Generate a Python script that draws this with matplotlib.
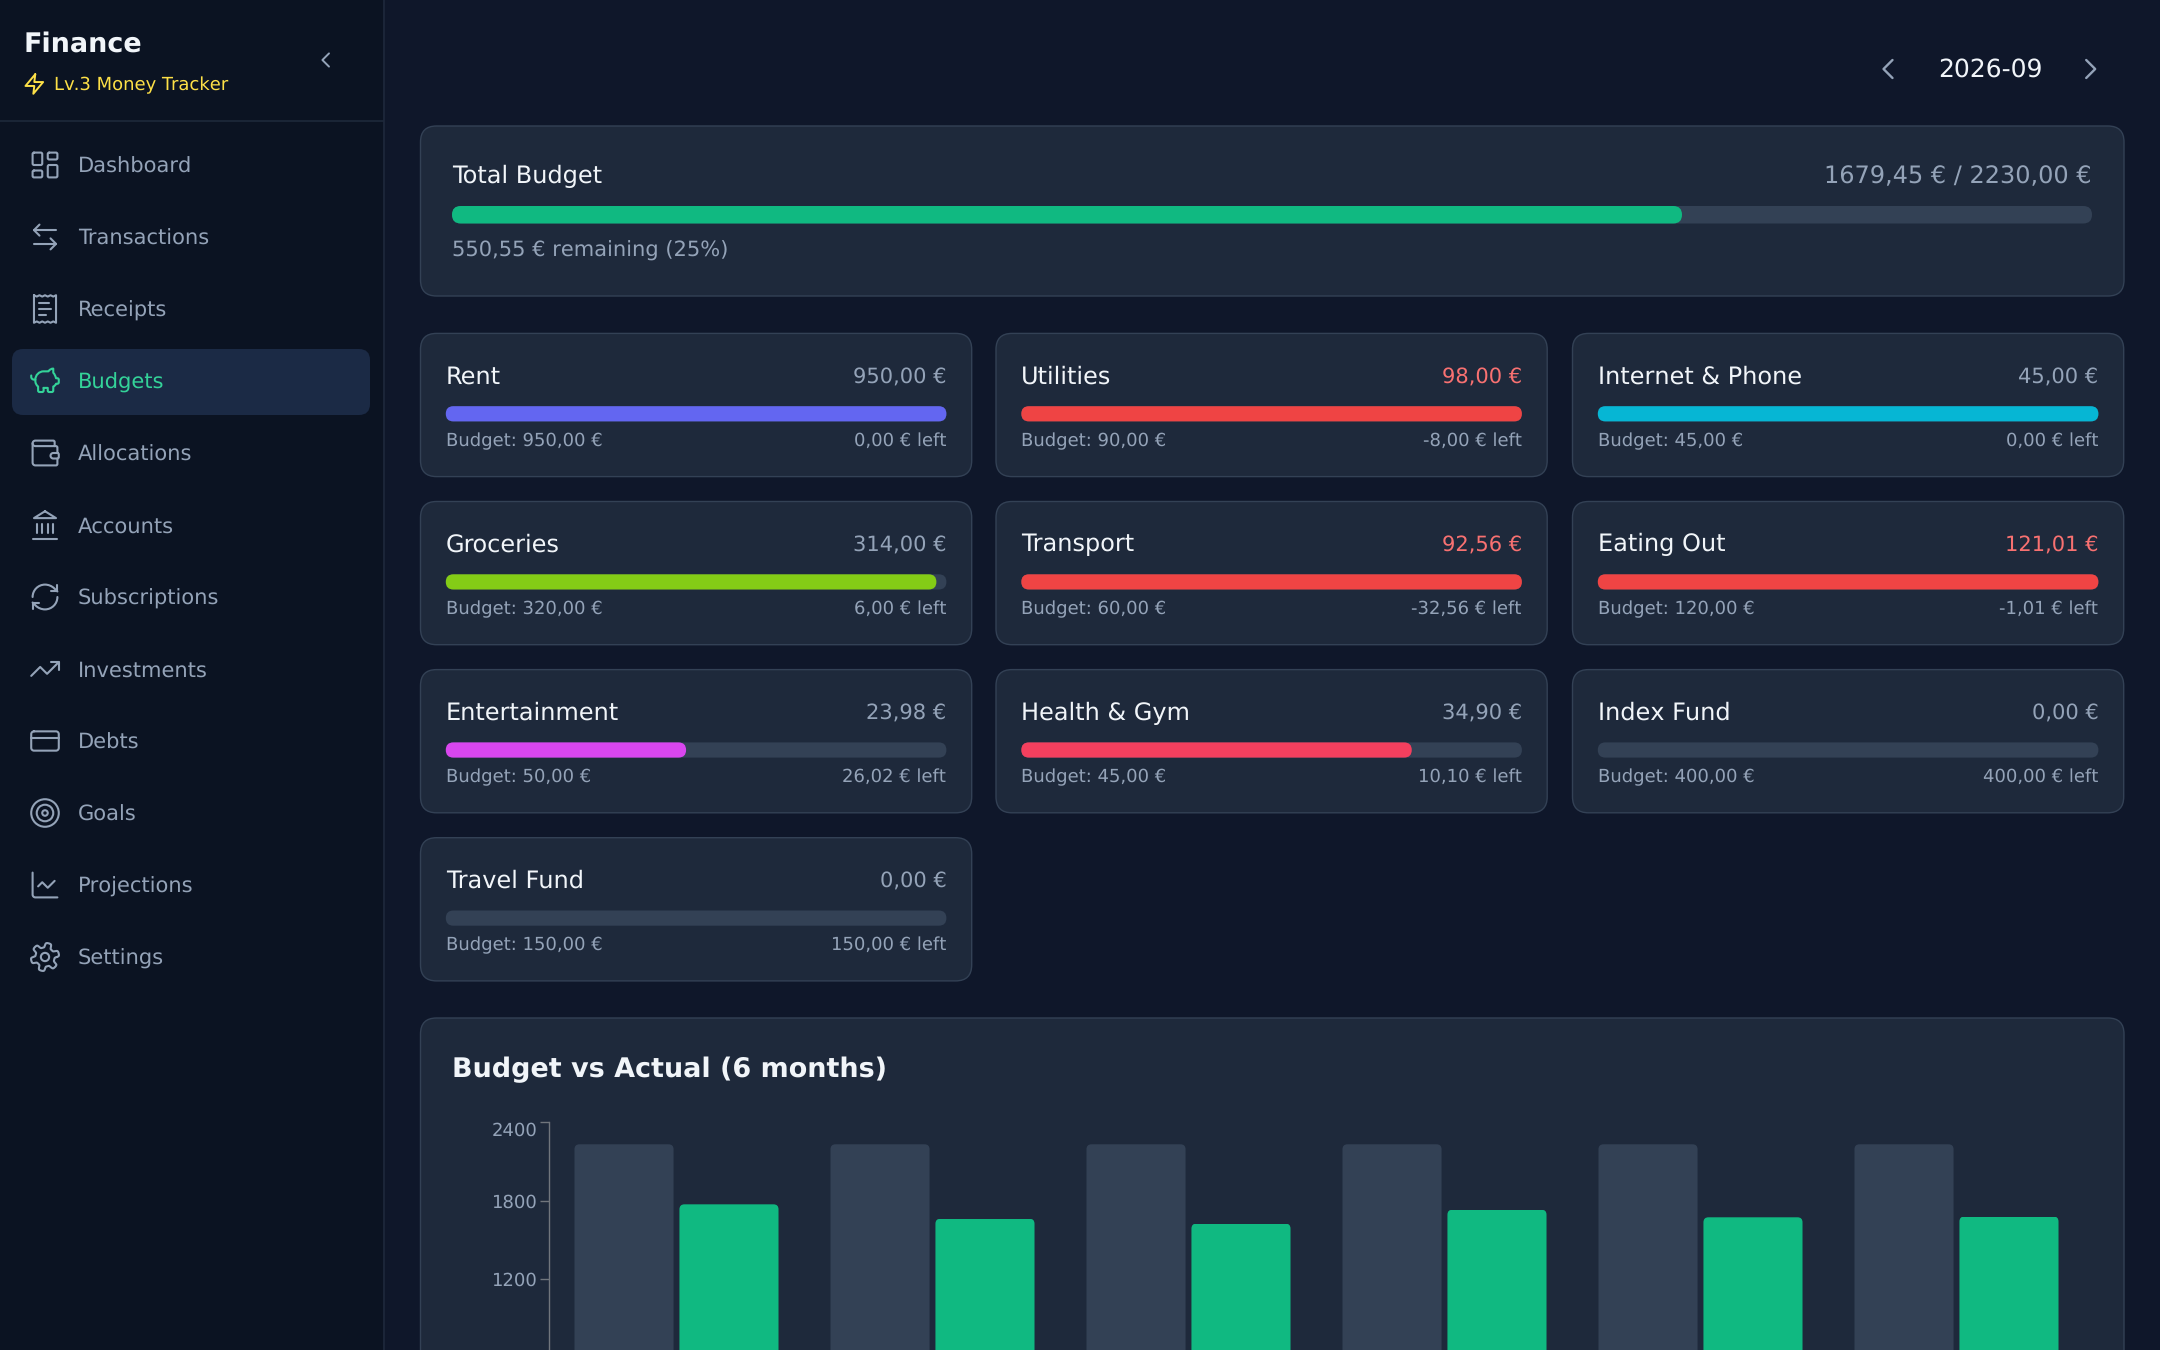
import re
import numpy as np
import matplotlib
matplotlib.use("Agg")
import matplotlib.pyplot as plt
from matplotlib.patches import FancyBboxPatch, Circle, PathPatch, Rectangle
from matplotlib.path import Path

# ---------- data ----------
nav_labels = ["Dashboard", "Transactions", "Receipts", "Budgets", "Allocations", "Accounts",
              "Subscriptions", "Investments", "Debts", "Goals", "Projections", "Settings"]
nav_icons = ["dashboard", "arrows", "receipt", "piggy", "wallet", "landmark",
             "refresh", "trending", "card", "target", "linechart", "settings"]
active_nav = "Budgets"
month_label = "2026-09"
total_spent = 1679.45
total_budget = 2230.00
categories = ["Rent", "Utilities", "Internet & Phone", "Groceries", "Transport", "Eating Out",
              "Entertainment", "Health & Gym", "Index Fund", "Travel Fund"]
spent = [950.00, 98.00, 45.00, 314.00, 92.56, 121.01, 23.98, 34.90, 0.00, 0.00]
budget = [950.00, 90.00, 45.00, 320.00, 60.00, 120.00, 50.00, 45.00, 400.00, 150.00]
bar_colors = ["#6366f1", "#ef4444", "#06b6d4", "#84cc16", "#ef4444", "#ef4444",
              "#d946ef", "#f43f5e", "#64748b", "#64748b"]
months = ["2026-04", "2026-05", "2026-06", "2026-07", "2026-08", "2026-09"]
budget_series = [2230, 2230, 2230, 2230, 2230, 2230]
actual_series = [1772, 1662, 1625, 1731, 1673, 1679]
y_ticks = [1200, 1800, 2400]

# ---------- palette ----------
BG = "#0f172a"
SIDE = "#0b1322"
CARD = "#1e293b"
EDGE = "#334155"
TRACK = "#334155"
MUTED = "#94a3b8"
LIGHT = "#f1f5f9"
GREEN = "#10b981"
NAVGREEN = "#34d399"
RED = "#f87171"
YELLOW = "#fde047"
PX = 0.992  # css px to pt

plt.rcParams["font.family"] = ["DejaVu Sans"]
plt.rcParams["text.hinting"] = "no_hinting"
plt.rcParams["text.hinting_factor"] = 1
fig = plt.figure(figsize=(21.6, 13.5), dpi=100, facecolor=BG)
ui = fig.add_axes([0, 0, 1, 1], zorder=0)
ui.set_xlim(0, 2160)
ui.set_ylim(1350, 0)
ui.axis("off")


def rbox(x0, y0, x1, y1, r, fc, ec="none", lw=0.0, z=1):
    p = FancyBboxPatch((x0, y0), x1 - x0, y1 - y0,
                       boxstyle=f"round,pad=0,rounding_size={min(r, (y1 - y0) / 2, (x1 - x0) / 2)}",
                       fc=fc, ec=ec, lw=lw, zorder=z)
    ui.add_patch(p)
    return p


def label(x, y, s, size, color, ha="left", weight="normal", z=5):
    return ui.text(x, y, s, fontsize=size * PX, color=color, ha=ha, va="baseline", fontweight=weight, zorder=z)


def svg_path(d):
    tokens = re.findall(r"[MmLlHhVvCcZz]|-?\d*\.?\d+", d)
    verts, codes = [], []
    i, cmd, cur, start = 0, None, np.zeros(2), np.zeros(2)

    def num():
        nonlocal i
        v = float(tokens[i])
        i += 1
        return v

    while i < len(tokens):
        if tokens[i].isalpha():
            cmd = tokens[i]
            i += 1
        rel = cmd.islower()
        c = cmd.upper()
        base = cur if rel else np.zeros(2)
        if c == "M":
            cur = base + [num(), num()]
            start = cur.copy()
            verts.append(cur.copy())
            codes.append(Path.MOVETO)
            cmd = "l" if rel else "L"
        elif c == "L":
            cur = base + [num(), num()]
            verts.append(cur.copy())
            codes.append(Path.LINETO)
        elif c == "H":
            cur = np.array([(cur[0] if rel else 0) + num(), cur[1]])
            verts.append(cur.copy())
            codes.append(Path.LINETO)
        elif c == "V":
            cur = np.array([cur[0], (cur[1] if rel else 0) + num()])
            verts.append(cur.copy())
            codes.append(Path.LINETO)
        elif c == "C":
            b = base.copy()
            p1 = b + [num(), num()]
            p2 = b + [num(), num()]
            p3 = b + [num(), num()]
            verts += [p1, p2, p3]
            codes += [Path.CURVE4] * 3
            cur = p3
        elif c == "Z":
            verts.append(start.copy())
            codes.append(Path.LINETO)
            cur = start.copy()
    return Path(np.array(verts), codes)


def rect_d(x, y, w, h, r):
    k = r * 0.55
    return (f"M{x + r} {y}h{w - 2 * r}c{k} 0 {r} {r - k} {r} {r}v{h - 2 * r}c0 {k} {k - r} {r} {-r} {r}"
            f"h{2 * r - w}c{-k} 0 {-r} {k - r} {-r} {-r}v{2 * r - h}c0 {-k} {r - k} {-r} {r} {-r}Z")


theta = np.linspace(0, 2 * np.pi, 240)
gear_r = 8.6 + 1.7 * np.tanh(2.6 * np.cos(6 * theta + np.pi / 2))
gear = "M" + "L".join(f"{12 + r * np.cos(t):.2f} {12 + r * np.sin(t):.2f} " for r, t in zip(gear_r, theta)) + "Z"

ICONS = {
    "dashboard": [rect_d(3, 3, 7, 9, 1), rect_d(14, 3, 7, 5, 1), rect_d(14, 12, 7, 9, 1), rect_d(3, 16, 7, 5, 1)],
    "arrows": ["M8 3L4 7l4 4", "M4 7h16", "M16 21l4-4-4-4", "M20 17H4"],
    "receipt": ["M4 2v20l2-1 2 1 2-1 2 1 2-1 2 1 2-1 2 1V2l-2 1-2-1-2 1-2-1-2 1-2-1-2 1Z",
                "M15 8H8", "M16 12H8", "M13 16H8"],
    "piggy": ["M11 17h3v2c0 .55.45 1 1 1h2c.55 0 1-.45 1-1v-3c1-.4 1.7-1.1 2-2h1c.55 0 1-.45 1-1v-2c0-.55-.45-1-1-1h-1c-.4-1.6-1-3-2-4V3c-1.3 0-2.4.6-3.2 1.6l-.3.4H11c-3.3 0-6 2.7-6 6v1c0 1.6.8 3.1 2 4v3c0 .55.45 1 1 1h2c.55 0 1-.45 1-1Z",
              "M2 8v1c0 1.1.9 2 2 2h1", "M16 10h.01"],
    "wallet": ["M19 7V4c0-.55-.45-1-1-1H5c-1.1 0-2 .9-2 2c0 1.1.9 2 2 2H20c.55 0 1 .45 1 1v4h-3c-1.1 0-2 .9-2 2c0 1.1.9 2 2 2h3c.55 0 1-.45 1-1v-2c0-.55-.45-1-1-1",
               "M3 5v14c0 1.1.9 2 2 2h15c.55 0 1-.45 1-1v-4"],
    "landmark": ["M3 22h18", "M6 18v-7", "M10 18v-7", "M14 18v-7", "M18 18v-7", "M12 2l8 5H4Z"],
    "refresh": ["M3 12c0-4.97 4.03-9 9-9c2.5 0 4.9 1 6.74 2.74L21 8", "M21 3v5h-5",
                "M21 12c0 4.97-4.03 9-9 9c-2.5 0-4.9-1-6.74-2.74L3 16", "M8 16H3v5"],
    "trending": ["M22 7L13.5 15.5 8.5 10.5 2 17", "M16 7H22V13"],
    "card": [rect_d(2, 5, 20, 14, 2), "M2 10H22"],
    "target": [],
    "linechart": ["M3 3v16c0 1.1.9 2 2 2h16", "M19 9l-5 5-4-4-3 3"],
    "settings": [gear],
    "zap": ["M13 2L3 14h9l-1 8 10-12h-9l1-8Z"],
    "left": ["M15 18L9 12 15 6"],
    "right": ["M9 18L15 12 9 6"],
}


def icon(name, cx, cy, color, unit=1.378, lw=1.5):
    def tx(v):
        return (np.asarray(v) - 12) * unit + [cx, cy]

    for d in ICONS[name]:
        p = svg_path(d)
        ui.add_patch(PathPatch(Path(tx(p.vertices), p.codes), fc="none", ec=color, lw=lw,
                               capstyle="round", joinstyle="round", zorder=5))
    if name == "target":
        for r in (10, 6, 2):
            ui.add_patch(Circle((cx, cy), r * unit, fc="none", ec=color, lw=lw, zorder=5))
    if name == "settings":
        ui.add_patch(Circle((cx, cy), 3 * unit, fc="none", ec=color, lw=lw, zorder=5))


def money(v):
    return f"{v:.2f}".replace(".", ",") + " €"


# ---------- sidebar ----------
ui.add_patch(Rectangle((0, 0), 383, 1350, fc=SIDE, ec="none", zorder=1))
ui.plot([383.5, 383.5], [0, 1350], color="#1e293b", lw=1.2, zorder=2)
ui.plot([0, 383], [120.7, 120.7], color="#1e293b", lw=1.2, zorder=2)
label(24, 52, "Finance", 19.7, LIGHT, weight="bold")
icon("zap", 34.3, 84, YELLOW, unit=0.98, lw=1.4)
label(54, 90, "Lv.3 Money Tracker", 12.95, YELLOW)
icon("left", 325.7, 60, MUTED, unit=1.1, lw=1.4)

for i, (name, ic) in enumerate(zip(nav_labels, nav_icons)):
    cy = 165 + 72 * i
    on = name == active_nav
    col = NAVGREEN if on else MUTED
    if on:
        rbox(12, cy - 32, 370, cy + 34, 11, "#1b2a45", z=2)
    icon(ic, 45, cy, col)
    label(78, cy + 7.3, name, 15, col)

# ---------- header ----------
ui.text(1990, 77, month_label, fontsize=18 * PX, color=LIGHT, ha="center", va="baseline", zorder=5)
icon("left", 1888, 69, MUTED, unit=1.5, lw=1.7)
icon("right", 2090.7, 69, MUTED, unit=1.5, lw=1.7)

# ---------- total card ----------
rbox(420.5, 126, 2124, 296, 16, CARD, EDGE, 1.0, z=1)
label(452, 183, "Total Budget", 17.7, LIGHT)
label(2092, 183, f"{money(total_spent)} / {money(total_budget)}", 17.7, MUTED, ha="right")
rbox(452, 206, 2092, 223.5, 8.7, TRACK, z=2)
rbox(452, 206, 452 + 1640 * round(total_spent / total_budget * 100) / 100, 223.5, 8.7, GREEN, z=3)
remaining = total_budget - total_spent
label(452, 256.3, f"{money(remaining)} remaining ({remaining / total_budget * 100:.0f}%)", 15, MUTED)

# ---------- category cards ----------
col_x = [420.5, 996, 1572.5]
row_y = [333.4, 501.5, 669.6, 837.7]
card_w, card_h = 551.2, 143.2
pad = 25.3
for i, name in enumerate(categories):
    x0 = col_x[i % 3]
    y0 = row_y[i // 3]
    x1 = x0 + card_w
    rbox(x0, y0, x1, y0 + card_h, 16, CARD, EDGE, 1.0, z=1)
    over = spent[i] > budget[i]
    label(x0 + pad, y0 + 50, name, 17.7, LIGHT)
    label(x1 - pad, y0 + 50, money(spent[i]), 15, RED if over else MUTED, ha="right")
    bx0, bx1 = x0 + pad, x1 - pad
    rbox(bx0, y0 + 72.8, bx1, y0 + 88, 7.6, TRACK, z=2)
    frac = min(1.0, round(spent[i] / budget[i] * 100) / 100)
    if frac > 0:
        rbox(bx0, y0 + 72.8, bx0 + (bx1 - bx0) * frac, y0 + 88, 7.6, bar_colors[i], z=3)
    label(bx0, y0 + 112.6, f"Budget: {money(budget[i])}", 13, MUTED)
    label(bx1, y0 + 112.6, f"{money(budget[i] - spent[i])} left", 13, MUTED, ha="right")

# ---------- chart card ----------
rbox(420.5, 1018, 2124, 1450, 16, CARD, EDGE, 1.0, z=1)
label(452, 1077, "Budget vs Actual (6 months)", 19.5, LIGHT, weight="bold")

AX_L, AX_W = 548.5, 1536.0
AX_T, AX_H = 1122.0, 314.6
ax = fig.add_axes([AX_L / 2160, (1350 - AX_T - AX_H) / 1350, AX_W / 2160, AX_H / 1350], zorder=2)
ax.patch.set_alpha(0)
x = np.arange(len(months))
bw, off = 0.387, 0.205
b1 = ax.bar(x - off, budget_series, bw, color="#334155", lw=0)
b2 = ax.bar(x + off, actual_series, bw, color=GREEN, lw=0)
ax.set_xlim(-0.5, len(months) - 0.5)
ax.set_ylim(0, 2400)
ax.set_yticks(y_ticks)
ax.set_xticks([])
for s in ("top", "right", "bottom"):
    ax.spines[s].set_visible(False)
ax.spines["left"].set_color("#70757c")
ax.spines["left"].set_linewidth(1.0)
ax.tick_params(axis="y", length=6.2, width=1.0, color="#70757c", labelcolor=MUTED,
               labelsize=13 * PX, pad=2.0)
ax.get_yticklabels()[-1].set_verticalalignment("top")

# rounded tops: clip each library-drawn bar with a rounded box in pixel space
fig.canvas.draw()
for rect in list(b1) + list(b2):
    (px0, py0), (px1, py1) = ax.transData.transform([(rect.get_x(), rect.get_height()),
                                                     (rect.get_x() + rect.get_width(), 0)])
    clip = FancyBboxPatch((px0, py1), px1 - px0, py0 - py1, boxstyle="round,pad=0,rounding_size=5",
                          transform=matplotlib.transforms.IdentityTransform())
    rect.set_clip_path(clip)

fig.savefig("out.png", dpi=100, facecolor=BG)
